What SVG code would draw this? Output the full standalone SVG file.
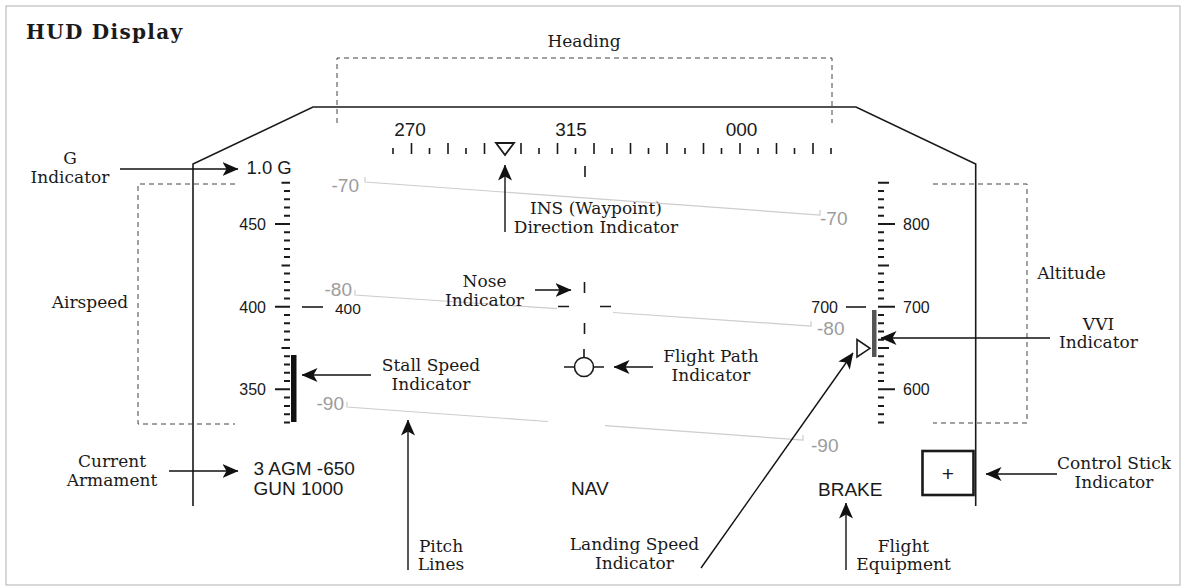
<svg xmlns="http://www.w3.org/2000/svg" width="1186" height="588" viewBox="0 0 1186 588">
<style>
.lbl{font-family:"DejaVu Serif","Liberation Serif",serif;font-size:17px;fill:#1a1a1a;text-anchor:middle}
.hud{font-family:"Liberation Sans",Arial,sans-serif;fill:#1a1a1a}
.pitch{font-family:"Liberation Sans",Arial,sans-serif;font-size:19px;fill:#9c9c9c}
.dash{fill:none;stroke:#444;stroke-width:1;stroke-dasharray:5 4}
.plin{fill:none;stroke:#cdcdcd;stroke-width:1.2}
.tick{fill:none;stroke:#1a1a1a;stroke-width:2}
.ln{fill:none;stroke:#1a1a1a;stroke-width:1.6}
.arr{fill:none;stroke:#111;stroke-width:1.4;marker-end:url(#ah)}
</style>
<defs>
<marker id="ah" viewBox="0 0 16 14" markerWidth="16" markerHeight="14" refX="15.5" refY="7" orient="auto" markerUnits="userSpaceOnUse">
<path d="M0,0 L16,7 L0,14 L4,7 z" fill="#111"/>
</marker>
<path id="minorTicks" d="M0 191h6M0 199.3h6M0 207.5h6M0 215.8h6M0 232.3h6M0 240.6h6M0 248.9h6M0 257.1h6M0 273.6h6M0 281.9h6M0 290.2h6M0 298.4h6M0 315h6M0 323.2h6M0 331.5h6M0 339.8h6M0 356.3h6M0 364.6h6M0 372.8h6M0 381.1h6M0 397.6h6M0 405.9h6M0 414.2h6M0 422.4h6"/>
</defs>
<rect width="1186" height="588" fill="#fff"/>
<rect x="6" y="6" width="1174" height="579" fill="none" stroke="#b0b0b0" stroke-width="1"/>
<g id="title"><text x="26" y="38.5" font-family="DejaVu Serif,serif" font-weight="bold" font-size="20" letter-spacing="1.3" fill="#1a1a1a">HUD Display</text></g>

<g id="hud-outline"><path class="ln" d="M193 506V164L313 107H856L975.7 164V506"/></g>

<g id="heading-box">
<path class="dash" d="M337 123V58H832V123"/>
<text class="lbl" x="584" y="46.5">Heading</text>
</g>

<g id="heading-scale">
<path class="ln" d="M411.5 143V154M448 143V154M484.5 143V154M521 143V154M557.5 143V154M594 143V154M630.5 143V154M667 143V154M703.5 143V154M740 143V154M776.5 143V154M813 143V154M393 148V154M429.5 148V154M466 148V154M539 148V154M575.5 148V154M612 148V154M648.5 148V154M685 148V154M721.5 148V154M758 148V154M794.5 148V154M831 148V154M585 166V177"/>
<g class="hud" font-size="19" text-anchor="middle"><text x="410" y="136">270</text><text x="571" y="136">315</text><text x="741.5" y="136">000</text></g>
</g>

<g id="ins-indicator"><path d="M496 143H514L505 155Z" fill="#fff" stroke="#1a1a1a" stroke-width="1.8"/>
<text class="lbl" x="596" y="214">INS (Waypoint)</text><text class="lbl" x="596" y="232.5">Direction Indicator</text></g>

<g id="g-indicator"><text class="lbl" x="70" y="164">G</text><text class="lbl" x="70" y="182.5">Indicator</text>
<text class="hud" x="246.5" y="174.3" font-size="18.5">1.0 G</text></g>

<g id="pitch-lines">
<path class="plin" d="M365 177V182L820 215V210"/>
<path class="plin" d="M355 290V295L557 308.7M613 312.5L811 326V321"/>
<path class="plin" d="M347 402V407L548 421.5M605 425.7L803 440V435"/>
<text class="pitch" x="359" y="192" text-anchor="end">-70</text>
<text class="pitch" x="820" y="225">-70</text>
<text class="pitch" x="352" y="295.5" text-anchor="end">-80</text>
<text class="pitch" x="817" y="335">-80</text>
<text class="pitch" x="344" y="410" text-anchor="end">-90</text>
<text class="pitch" x="811" y="452">-90</text>
</g>

<g id="airspeed">
<path class="dash" d="M235 184H138V424H235"/>
<text class="lbl" x="90" y="308" >Airspeed</text>
<use href="#minorTicks" x="284" class="tick"/>
<path class="tick" d="M281.5 182.7h8.5M281.5 265.4h8.5M281.5 348h8.5M275 224.05h15M275 306.7h15M275 389.35h15"/>
<g class="hud" font-size="16" text-anchor="end"><text x="266" y="229.8">450</text><text x="266" y="312.5">400</text><text x="266" y="395">350</text></g>
<path class="ln" d="M302 307H323"/>
<text class="hud" font-size="15.5" x="335" y="314">400</text>
<rect x="291" y="355" width="5.5" height="67" fill="#111"/>
</g>

<g id="stall-speed-label"><text class="lbl" x="431" y="371">Stall Speed</text><text class="lbl" x="431" y="389.5">Indicator</text></g>

<g id="altitude">
<path class="dash" d="M933 184H1027V423H933"/>
<text class="lbl" x="1071.5" y="279">Altitude</text>
<use href="#minorTicks" x="878" class="tick"/>
<path class="tick" d="M878 182.7h11M878 265.4h11M878 348h11M878 224.05h17M878 306.7h17M878 389.35h17"/>
<g class="hud" font-size="16"><text x="903" y="229.8">800</text><text x="903" y="312.5">700</text><text x="903" y="395">600</text><text x="838" y="312.5" text-anchor="end">700</text></g>
<path class="ln" d="M846 307H866"/>
<rect x="872" y="310" width="4.5" height="47" fill="#555"/>
<path d="M857 339.5V357L870 348.3Z" fill="#fff" stroke="#1a1a1a" stroke-width="1.6"/>
</g>

<g id="nose-indicator">
<path class="ln" d="M584.5 282V293M558 306.5H569M600 306.5H611M584.5 323V334"/>
<text class="lbl" x="484.5" y="287">Nose</text><text class="lbl" x="484.5" y="305.5">Indicator</text>
</g>

<g id="flight-path-indicator">
<circle cx="584" cy="367" r="9.5" fill="none" stroke="#1a1a1a" stroke-width="1.6"/>
<path class="ln" d="M584 349V357.5M564 367H574.5M593.5 367H604"/>
<text class="lbl" x="711" y="362">Flight Path</text><text class="lbl" x="711" y="380.5">Indicator</text>
</g>

<g id="vvi-label"><text class="lbl" x="1098.5" y="329.5">VVI</text><text class="lbl" x="1098.5" y="348">Indicator</text></g>

<g id="armament"><text class="lbl" x="112" y="467">Current</text><text class="lbl" x="112" y="485.5">Armament</text>
<text class="hud" font-size="19" x="253.5" y="475">3 AGM -650</text><text class="hud" font-size="19" x="253.5" y="495">GUN 1000</text></g>

<g id="nav"><text class="hud" font-size="19" x="571" y="495">NAV</text></g>
<g id="brake"><text class="hud" font-size="19" x="818" y="495.5">BRAKE</text></g>

<g id="control-stick">
<rect x="922.5" y="451" width="51" height="44" fill="none" stroke="#1a1a1a" stroke-width="2.6"/>
<text class="hud" font-size="21" x="948" y="480.5" text-anchor="middle">+</text>
<text class="lbl" x="1114" y="469">Control Stick</text><text class="lbl" x="1114" y="487.5">Indicator</text>
</g>

<g id="pitch-lines-label"><text class="lbl" x="441" y="552">Pitch</text><text class="lbl" x="441" y="570">Lines</text></g>
<g id="landing-speed-label"><text class="lbl" x="634.5" y="550">Landing Speed</text><text class="lbl" x="634.5" y="568.5">Indicator</text></g>
<g id="flight-equipment-label"><text class="lbl" x="903.5" y="552">Flight</text><text class="lbl" x="903.5" y="570">Equipment</text></g>

<g id="connectors">
<path class="arr" d="M120 169H238"/>
<path class="arr" d="M505 232V165"/>
<path class="arr" d="M535 290H571"/>
<path class="arr" d="M371 375H302"/>
<path class="arr" d="M653 367H614"/>
<path class="arr" d="M1050 338H881"/>
<path class="arr" d="M701 568L853 353"/>
<path class="arr" d="M169 471H238"/>
<path class="arr" d="M408 570V420"/>
<path class="arr" d="M846 570V503"/>
<path class="arr" d="M1057 474H986"/>
</g>
</svg>
